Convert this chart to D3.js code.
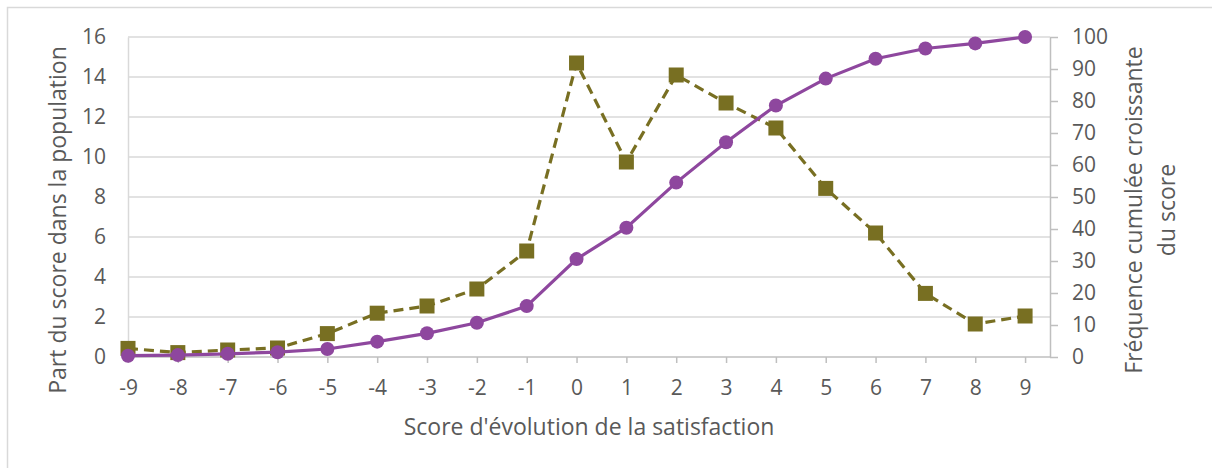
<!DOCTYPE html>
<html>
<head>
<meta charset="utf-8">
<script src="https://cdn.jsdelivr.net/npm/d3@7"></script>
<style>
  body { margin: 0; background: #fff; }
  text { font-family: "Open Sans", "Liberation Sans", sans-serif; fill: #595959; }
</style>
</head>
<body>
<div id="chart"></div>
<script>
// categories and series
const scores = [-9, -8, -7, -6, -5, -4, -3, -2, -1, 0, 1, 2, 3, 4, 5, 6, 7, 8, 9];
const partPop = [0.43, 0.22, 0.35, 0.45, 1.17, 2.19, 2.55, 3.4, 5.3, 14.7, 9.75, 14.1, 12.7, 11.45, 8.43, 6.2, 3.18, 1.65, 2.05];
const cumFreq = [0.4, 0.6, 1.0, 1.5, 2.5, 4.8, 7.4, 10.7, 15.9, 30.6, 40.4, 54.5, 67.1, 78.6, 87.0, 93.2, 96.4, 98.0, 100];
const leftTicks = [0, 2, 4, 6, 8, 10, 12, 14, 16];
const rightTicks = [0, 10, 20, 30, 40, 50, 60, 70, 80, 90, 100];

const W = 1212, H = 468;
const margin = { top: 37, right: 162, bottom: 111, left: 128 };

const svg = d3.select('#chart').append('svg')
  .attr('width', W).attr('height', H);

// outer frame (only top and left edges are visible in the picture)
svg.append('path')
  .attr('d', `M7.5,${H} V7.5 H${W}`)
  .attr('fill', 'none').attr('stroke', '#d9d9d9').attr('stroke-width', 1.5);

const x = d3.scaleLinear().domain([-9, 9.5]).range([margin.left, W - margin.right]);
const yL = d3.scaleLinear().domain([0, 16]).range([H - margin.bottom, margin.top]);
const yR = d3.scaleLinear().domain([0, 100]).range([H - margin.bottom, margin.top]);

// gridlines
svg.append('g')
  .selectAll('line').data(leftTicks.slice(1)).join('line')
  .attr('x1', x(-9)).attr('x2', x(9.5))
  .attr('y1', d => yL(d)).attr('y2', d => yL(d))
  .attr('stroke', '#d9d9d9').attr('stroke-width', 1.5);

// left axis
const gL = svg.append('g')
  .attr('transform', `translate(${x(-9)},0)`)
  .call(d3.axisLeft(yL).tickValues(leftTicks).tickSize(0).tickPadding(22));
gL.select('.domain').attr('stroke', '#d9d9d9').attr('stroke-width', 1.5);
gL.selectAll('text').style('font-size', '21px').attr('fill', '#595959');

// right axis
const gR = svg.append('g')
  .attr('transform', `translate(${x(9.5)},0)`)
  .call(d3.axisRight(yR).tickValues(rightTicks).tickSize(8).tickSizeOuter(0).tickPadding(14));
gR.selectAll('.domain, line').attr('stroke', '#bfbfbf').attr('stroke-width', 1.5);
gR.selectAll('text').style('font-size', '21px').attr('fill', '#595959');

// bottom axis
const gB = svg.append('g')
  .attr('transform', `translate(0,${yL(0)})`)
  .call(d3.axisBottom(x).tickValues(scores).tickSize(6).tickSizeOuter(0).tickPadding(17).tickFormat(d => String(d)));
gB.select('.domain').attr('d', `M${x(-9)},0H${x(9.5)}`);
gB.selectAll('.domain, line').attr('stroke', '#bfbfbf').attr('stroke-width', 1.5);
gB.selectAll('text').style('font-size', '21px').attr('fill', '#595959');

// olive dashed series (left axis)
const olive = '#786f22';
svg.append('path')
  .datum(partPop)
  .attr('fill', 'none').attr('stroke', olive).attr('stroke-width', 3.2)
  .attr('stroke-dasharray', '10,6')
  .attr('d', d3.line().x((d, i) => x(scores[i])).y(d => yL(d)));
svg.append('g').selectAll('rect').data(partPop).join('rect')
  .attr('x', (d, i) => x(scores[i]) - 7.5).attr('y', d => yL(d) - 7.5)
  .attr('width', 15).attr('height', 15).attr('fill', olive);

// purple cumulative series (right axis)
const purple = '#8e479e';
svg.append('path')
  .datum(cumFreq)
  .attr('fill', 'none').attr('stroke', purple).attr('stroke-width', 3.2)
  .attr('d', d3.line().x((d, i) => x(scores[i])).y(d => yR(d)));
svg.append('g').selectAll('circle').data(cumFreq).join('circle')
  .attr('cx', (d, i) => x(scores[i])).attr('cy', d => yR(d))
  .attr('r', 7).attr('fill', purple);

// axis titles
svg.append('text')
  .attr('transform', 'translate(66,220) rotate(-90)')
  .attr('text-anchor', 'middle').style('font-size', '23px')
  .text('Part du score dans la population');

const rt = svg.append('text')
  .attr('transform', 'translate(1142,210) rotate(-90)')
  .attr('text-anchor', 'middle').style('font-size', '23px');
rt.append('tspan').attr('x', 0).attr('dy', 0).text('Fréquence cumulée croissante');
rt.append('tspan').attr('x', 0).attr('dy', 33).text('du score');

svg.append('text')
  .attr('x', 589).attr('y', 435)
  .attr('text-anchor', 'middle').style('font-size', '23px')
  .text("Score d'évolution de la satisfaction");
</script>
</body>
</html>
